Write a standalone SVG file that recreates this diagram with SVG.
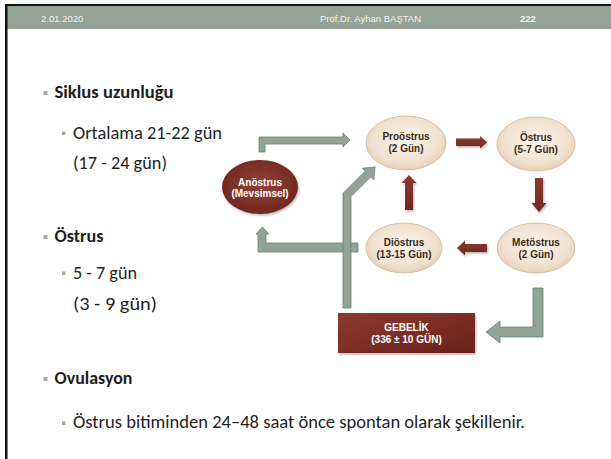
<svg xmlns="http://www.w3.org/2000/svg" width="611" height="459" viewBox="0 0 611 459">
<defs>
<radialGradient id="beige" cx="50%" cy="45%" r="60%">
<stop offset="0" stop-color="#fbf4ec"/>
<stop offset="0.7" stop-color="#f1e1cf"/>
<stop offset="1" stop-color="#e2c9ae"/>
</radialGradient>
<radialGradient id="darkred" cx="50%" cy="45%" r="60%">
<stop offset="0" stop-color="#93433a"/>
<stop offset="1" stop-color="#6d241d"/>
</radialGradient>
<linearGradient id="redbox" x1="0" y1="0" x2="1" y2="1">
<stop offset="0" stop-color="#8c3a31"/>
<stop offset="1" stop-color="#6a221b"/>
</linearGradient>
<linearGradient id="redarrow" x1="0" y1="0" x2="0" y2="1">
<stop offset="0" stop-color="#8e3b31"/>
<stop offset="1" stop-color="#6e261f"/>
</linearGradient>
<filter id="sh" x="-20%" y="-20%" width="140%" height="140%">
<feDropShadow dx="1" dy="1.5" stdDeviation="1.2" flood-color="#000" flood-opacity="0.3"/>
</filter>
</defs>
<style>
.hdr{font-family:"Liberation Sans",Arial,sans-serif;font-size:9.5px;fill:#f2f4f2}
.body{font-family:Carlito,Lato,"Liberation Sans",sans-serif;fill:#1e1e1e}
.b1{font-size:17.5px;font-weight:bold}
.b2{font-size:17.5px}
.bul{fill:#a3ae9f}
.node{font-family:"Liberation Sans",Arial,sans-serif;font-size:10px;font-weight:bold;text-anchor:middle}
.dk{fill:#3a2b20}
.wt{fill:#ffffff}
.bei{fill:url(#beige);stroke:#cfb495;stroke-width:0.8}
.garrow{fill:#8fa396;stroke:#6c8172;stroke-width:0.8}
.rarrow{fill:url(#redarrow);filter:url(#sh)}
</style>
<rect width="611" height="459" fill="#ffffff"/>
<g id="frame">
<rect x="6" y="5" width="605" height="24" fill="#94a396"/>
<rect x="5" y="4" width="606" height="2" fill="#111"/>
<rect x="5" y="4" width="2.5" height="455" fill="#111"/>
</g>
<g id="header">
<text class="hdr" x="41" y="22">2.01.2020</text>
<text class="hdr" x="320" y="22">Prof.Dr. Ayhan BAŞTAN</text>
<text class="hdr" x="520" y="22" font-weight="bold" font-size="11px">222</text>
</g>
<g id="bullets-text">
<rect class="bul" x="43.5" y="91" width="4" height="4"/>
<text class="body b1" x="54.5" y="98" textLength="119" lengthAdjust="spacingAndGlyphs">Siklus uzunluğu</text>
<rect class="bul" x="62" y="131.5" width="3.5" height="3.5"/>
<text class="body b2" x="73" y="139" textLength="149" lengthAdjust="spacingAndGlyphs">Ortalama 21-22 gün</text>
<text class="body b2" x="73" y="169" textLength="94" lengthAdjust="spacingAndGlyphs">(17 - 24 gün)</text>
<rect class="bul" x="43.5" y="235" width="4" height="4"/>
<text class="body b1" x="54.5" y="242" textLength="49" lengthAdjust="spacingAndGlyphs">Östrus</text>
<rect class="bul" x="62" y="271.5" width="3.5" height="3.5"/>
<text class="body b2" x="73" y="279" textLength="64" lengthAdjust="spacingAndGlyphs">5 - 7 gün</text>
<text class="body b2" x="73" y="310" textLength="84" lengthAdjust="spacingAndGlyphs">(3 - 9 gün)</text>
<rect class="bul" x="43.5" y="377" width="4" height="4"/>
<text class="body b1" x="54.5" y="384" textLength="78" lengthAdjust="spacingAndGlyphs">Ovulasyon</text>
<rect class="bul" x="62" y="421.5" width="3.5" height="3.5"/>
<text class="body b2" x="73" y="428" textLength="452" lengthAdjust="spacingAndGlyphs">Östrus bitiminden 24–48 saat önce spontan olarak şekillenir.</text>
</g>
<g id="connectors">
<polygon class="garrow" points="259,137 343,137 343,133 350,140 343,147 343,144 265,144 265,152 259,152"/>
<polygon class="garrow" points="358,243 266,243 266,234 269,234 262.5,227 256,234 258,234 258,252 358,252"/>
<polygon class="garrow" points="343,308 343,193.3 365.2,171.2 362.3,168.3 375.1,166.9 373.7,179.7 370.8,176.8 351,196.6 351,308"/>
<polygon class="garrow" points="533,288 543,288 543,337 500,337 500,343 486,332 500,321 500,327 533,327"/>
<polygon class="rarrow" points="456,138.5 480,138.5 480,136 487,142.2 480,148.5 480,146 456,146"/>
<polygon class="rarrow" points="535,178 543,178 543,203 546.5,203 539,212 531.5,203 535,203"/>
<polygon class="rarrow" points="405,210 405,183 401.5,183 409,175 416.5,183 413,183 413,210"/>
<polygon class="rarrow" points="487,244 465,244 465,240.5 457,248 465,255.5 465,252 487,252"/>
</g>
<g id="anostrus">
<ellipse cx="260" cy="187" rx="38" ry="27" fill="url(#darkred)" filter="url(#sh)"/>
<text class="node wt" x="260" y="186">Anöstrus</text>
<text class="node wt" x="260" y="197" font-size="9.5px">(Mevsimsel)</text>
</g>
<g id="proostrus">
<ellipse class="bei" cx="406" cy="143" rx="40" ry="27"/>
<text class="node dk" x="406" y="140">Proöstrus</text>
<text class="node dk" x="406" y="152">(2 Gün)</text>
</g>
<g id="ostrus">
<ellipse class="bei" cx="536" cy="144" rx="39" ry="27"/>
<text class="node dk" x="536" y="141">Östrus</text>
<text class="node dk" x="536" y="153">(5-7 Gün)</text>
</g>
<g id="metostrus">
<ellipse class="bei" cx="536" cy="248" rx="39" ry="25"/>
<text class="node dk" x="536" y="245.5">Metöstrus</text>
<text class="node dk" x="536" y="257.5">(2 Gün)</text>
</g>
<g id="diostrus">
<ellipse class="bei" cx="404" cy="248" rx="38" ry="25"/>
<text class="node dk" x="404" y="245.5">Diöstrus</text>
<text class="node dk" x="404" y="257.5">(13-15 Gün)</text>
</g>
<g id="gebelik">
<rect x="338" y="313" width="137" height="40" fill="url(#redbox)" filter="url(#sh)"/>
<text class="node wt" x="406.5" y="331">GEBELİK</text>
<text class="node wt" x="406.5" y="342.5">(336 ± 10 GÜN)</text>
</g>
</svg>
